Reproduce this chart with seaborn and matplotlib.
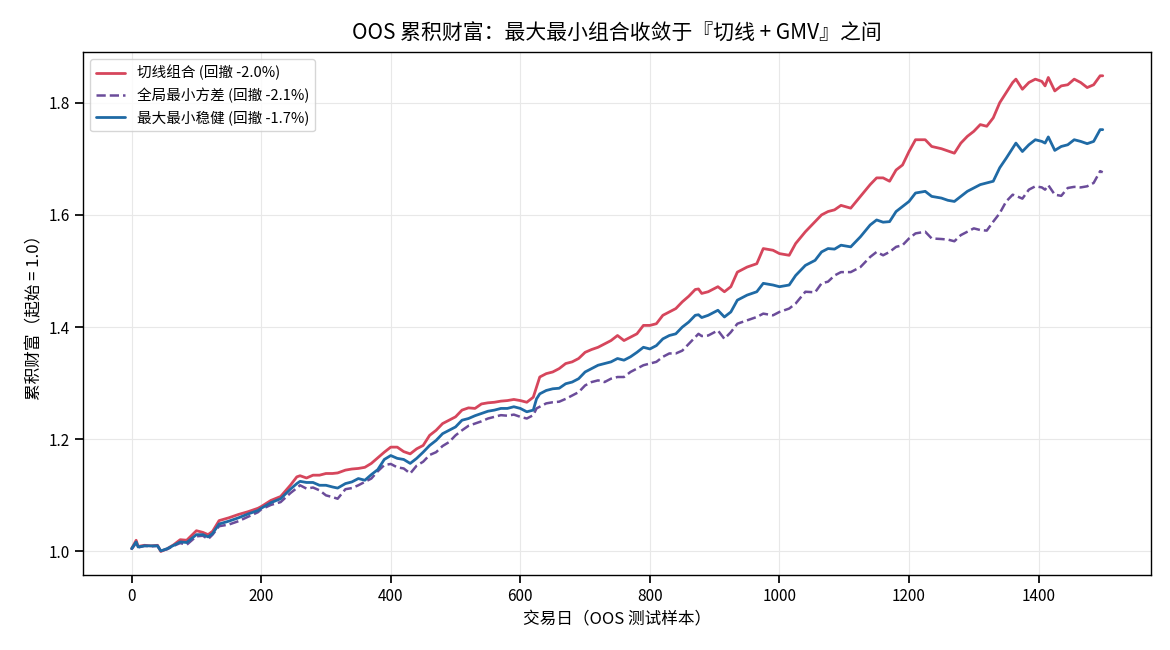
import numpy as np
import pandas as pd
import matplotlib
matplotlib.use("Agg")
import matplotlib.pyplot as plt
import seaborn as sns

# 交易日 (OOS) 采样点
days = [0, 7, 10, 20, 30, 40, 45, 55, 65, 75, 85, 100, 110, 118, 125, 135, 150, 165, 180, 195,
        200, 215, 230, 245, 255, 260, 270, 280, 290, 300, 310, 318, 330, 340, 350, 360, 370, 380, 390, 400,
        410, 420, 430, 440, 450, 460, 470, 480, 490, 500, 510, 520, 530, 540, 550, 560, 570, 580, 590, 600,
        610, 620, 625, 630, 640, 650, 660, 670, 680, 690, 700, 710, 720, 730, 740, 750, 760, 770, 780, 790,
        800, 810, 820, 830, 840, 850, 860, 870, 875, 880, 890, 905, 915, 925, 935, 950, 965, 975, 990, 1000,
        1015, 1025, 1040, 1055, 1065, 1075, 1085, 1095, 1110, 1125, 1140, 1150, 1160, 1170, 1180, 1190, 1200, 1210, 1225, 1235,
        1250, 1260, 1270, 1280, 1290, 1300, 1310, 1320, 1330, 1340, 1350, 1360, 1365, 1375, 1385, 1395, 1405, 1410, 1415, 1425,
        1435, 1445, 1455, 1465, 1475, 1485, 1495, 1499]

tangency = [1.005, 1.020, 1.009, 1.011, 1.010, 1.011, 1.000, 1.005, 1.012, 1.021, 1.020, 1.037, 1.034, 1.030, 1.036, 1.055, 1.060, 1.066, 1.071, 1.077,
            1.080, 1.091, 1.098, 1.118, 1.133, 1.135, 1.131, 1.136, 1.136, 1.139, 1.139, 1.140, 1.145, 1.147, 1.148, 1.150, 1.157, 1.167, 1.177, 1.186,
            1.186, 1.178, 1.174, 1.183, 1.189, 1.207, 1.216, 1.228, 1.234, 1.240, 1.252, 1.256, 1.255, 1.263, 1.265, 1.266, 1.268, 1.269, 1.271, 1.269,
            1.266, 1.275, 1.293, 1.311, 1.317, 1.320, 1.326, 1.335, 1.338, 1.344, 1.355, 1.360, 1.364, 1.370, 1.376, 1.385, 1.376, 1.382, 1.388, 1.403,
            1.403, 1.406, 1.421, 1.427, 1.433, 1.445, 1.455, 1.467, 1.468, 1.460, 1.463, 1.472, 1.463, 1.472, 1.498, 1.507, 1.513, 1.540, 1.537, 1.531,
            1.528, 1.549, 1.570, 1.588, 1.600, 1.606, 1.609, 1.617, 1.612, 1.633, 1.654, 1.666, 1.666, 1.660, 1.680, 1.689, 1.713, 1.734, 1.734, 1.722,
            1.718, 1.714, 1.710, 1.728, 1.740, 1.749, 1.761, 1.758, 1.773, 1.800, 1.818, 1.836, 1.842, 1.824, 1.836, 1.842, 1.838, 1.830, 1.845, 1.821,
            1.830, 1.832, 1.842, 1.836, 1.827, 1.832, 1.848, 1.848]

gmv = [1.004, 1.015, 1.007, 1.010, 1.009, 1.010, 1.001, 1.004, 1.010, 1.015, 1.012, 1.027, 1.028, 1.022, 1.030, 1.045, 1.048, 1.054, 1.062, 1.070,
       1.075, 1.083, 1.088, 1.104, 1.113, 1.118, 1.112, 1.114, 1.109, 1.100, 1.097, 1.094, 1.111, 1.113, 1.118, 1.124, 1.130, 1.143, 1.154, 1.156,
       1.150, 1.148, 1.139, 1.153, 1.160, 1.172, 1.177, 1.188, 1.195, 1.207, 1.216, 1.224, 1.228, 1.232, 1.237, 1.240, 1.243, 1.242, 1.244, 1.240,
       1.237, 1.243, 1.255, 1.258, 1.264, 1.266, 1.267, 1.272, 1.278, 1.284, 1.296, 1.302, 1.305, 1.302, 1.308, 1.311, 1.311, 1.320, 1.326, 1.332,
       1.335, 1.338, 1.347, 1.353, 1.353, 1.358, 1.370, 1.382, 1.388, 1.384, 1.385, 1.394, 1.379, 1.391, 1.406, 1.412, 1.418, 1.424, 1.421, 1.427,
       1.433, 1.442, 1.463, 1.462, 1.478, 1.481, 1.492, 1.498, 1.498, 1.507, 1.525, 1.534, 1.528, 1.534, 1.543, 1.546, 1.558, 1.567, 1.570, 1.558,
       1.557, 1.556, 1.553, 1.564, 1.570, 1.576, 1.573, 1.572, 1.588, 1.603, 1.624, 1.636, 1.634, 1.629, 1.645, 1.651, 1.649, 1.645, 1.653, 1.636,
       1.634, 1.648, 1.650, 1.649, 1.651, 1.657, 1.678, 1.676]

minimax = [1.005, 1.017, 1.008, 1.010, 1.010, 1.010, 1.001, 1.005, 1.011, 1.017, 1.016, 1.030, 1.030, 1.026, 1.032, 1.049, 1.054, 1.060, 1.067, 1.073,
           1.077, 1.087, 1.094, 1.111, 1.121, 1.125, 1.123, 1.123, 1.118, 1.118, 1.115, 1.113, 1.121, 1.124, 1.130, 1.127, 1.137, 1.146, 1.164, 1.171,
           1.166, 1.164, 1.157, 1.166, 1.177, 1.189, 1.198, 1.210, 1.216, 1.222, 1.234, 1.237, 1.242, 1.246, 1.250, 1.252, 1.255, 1.255, 1.258, 1.255,
           1.249, 1.252, 1.272, 1.281, 1.287, 1.290, 1.291, 1.299, 1.302, 1.308, 1.320, 1.326, 1.332, 1.335, 1.338, 1.344, 1.341, 1.347, 1.355, 1.364,
           1.361, 1.367, 1.379, 1.385, 1.388, 1.400, 1.409, 1.421, 1.422, 1.417, 1.421, 1.430, 1.418, 1.427, 1.448, 1.457, 1.463, 1.478, 1.475, 1.472,
           1.475, 1.492, 1.510, 1.519, 1.534, 1.540, 1.539, 1.546, 1.543, 1.561, 1.582, 1.591, 1.587, 1.588, 1.606, 1.615, 1.624, 1.639, 1.642, 1.633,
           1.630, 1.626, 1.624, 1.633, 1.642, 1.648, 1.654, 1.657, 1.660, 1.684, 1.701, 1.719, 1.728, 1.713, 1.725, 1.734, 1.731, 1.728, 1.739, 1.715,
           1.722, 1.725, 1.734, 1.731, 1.727, 1.731, 1.752, 1.752]

labels = ["切线组合 (回撤 -2.0%)", "全局最小方差 (回撤 -2.1%)", "最大最小稳健 (回撤 -1.7%)"]

sns.set_theme(style="ticks", rc={"axes.grid": True, "grid.color": "#e8e8e8", "grid.linewidth": 0.8,
                                 "text.color": "black", "axes.labelcolor": "black",
                                 "xtick.color": "black", "ytick.color": "black"})
plt.rcParams['font.family'] = ['Noto Sans CJK SC', 'DejaVu Sans']
plt.rcParams['axes.unicode_minus'] = False

fig, ax = plt.subplots(figsize=(11.7, 6.5), dpi=100)
fig.subplots_adjust(left=0.071, right=0.984, top=0.920, bottom=0.115)

sns.lineplot(x=days, y=tangency, ax=ax, color="#d6465c", linewidth=2, label=labels[0])
sns.lineplot(x=days, y=gmv, ax=ax, color="#6b4c9a", linewidth=1.8, linestyle="--", label=labels[1])
sns.lineplot(x=days, y=minimax, ax=ax, color="#1f6aa5", linewidth=2, label=labels[2])

ax.set_title("OOS 累积财富：最大最小组合收敛于『切线 + GMV』之间", fontsize=15, pad=9)
ax.set_xlabel("交易日（OOS 测试样本）", fontsize=12)
ax.set_ylabel("累积财富（起始 = 1.0）", fontsize=12)
ax.tick_params(labelsize=11)
for s in ax.spines.values():
    s.set_color("black")
    s.set_linewidth(1.0)
ax.legend(loc="upper left", fontsize=10.5, frameon=True, edgecolor="#cccccc")

plt.savefig("out.png", dpi=100)
